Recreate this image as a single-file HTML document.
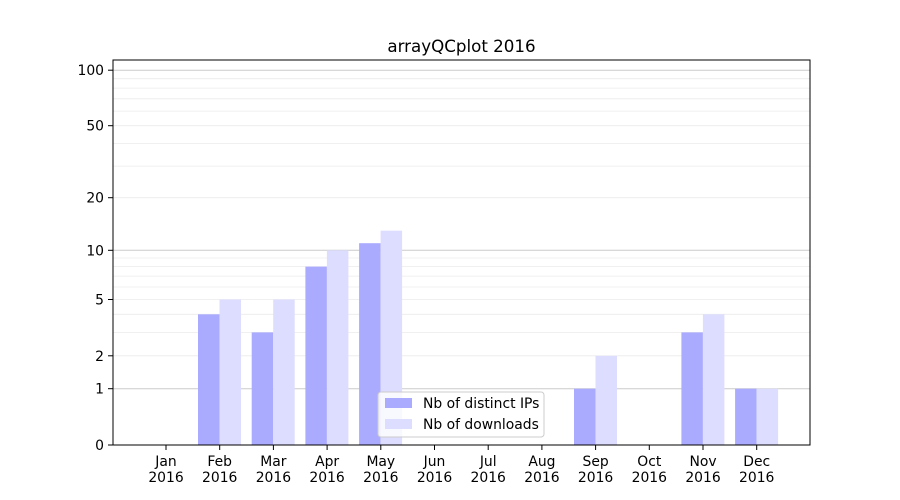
<!DOCTYPE html>
<html><head><meta charset="utf-8"><style>body{margin:0;background:#fff}svg{display:block}text{font-family:"DejaVu Sans","Liberation Sans",sans-serif;font-size:13.9px;fill:#000}</style></head><body>
<svg width="900" height="500" xmlns="http://www.w3.org/2000/svg">
<rect width="900" height="500" fill="#fff"/>
<g stroke="#ebebeb" stroke-width="0.8">
<line x1="113" x2="810" y1="332.4" y2="332.4"/><line x1="113" x2="810" y1="314.3" y2="314.3"/>
<line x1="113" x2="810" y1="287" y2="287"/><line x1="113" x2="810" y1="276.1" y2="276.1"/>
<line x1="113" x2="810" y1="266.6" y2="266.6"/><line x1="113" x2="810" y1="258" y2="258"/>
<line x1="113" x2="810" y1="166.1" y2="166.1"/><line x1="113" x2="810" y1="143.4" y2="143.4"/>
<line x1="113" x2="810" y1="111.1" y2="111.1"/><line x1="113" x2="810" y1="98.8" y2="98.8"/>
<line x1="113" x2="810" y1="88.1" y2="88.1"/><line x1="113" x2="810" y1="78.7" y2="78.7"/>
<line x1="113" x2="810" y1="355.8" y2="355.8"/><line x1="113" x2="810" y1="299.5" y2="299.5"/>
<line x1="113" x2="810" y1="197.7" y2="197.7"/><line x1="113" x2="810" y1="125.7" y2="125.7"/>
</g>
<g stroke="#cccccc" stroke-width="1">
<line x1="113" x2="810" y1="388.7" y2="388.7"/><line x1="113" x2="810" y1="250.3" y2="250.3"/><line x1="113" x2="810" y1="70.2" y2="70.2"/>
</g>
<g fill="#aaaaff">
<rect x="198" y="314.3" width="21.5" height="130.7"/>
<rect x="251.7" y="332.4" width="21.5" height="112.6"/>
<rect x="305.4" y="266.6" width="21.5" height="178.4"/>
<rect x="359.1" y="243.2" width="21.5" height="201.8"/>
<rect x="574" y="388.7" width="21.5" height="56.3"/>
<rect x="681.4" y="332.4" width="21.5" height="112.6"/>
<rect x="735.1" y="388.7" width="21.5" height="56.3"/>
</g>
<g fill="#ddddff">
<rect x="219.5" y="299.5" width="21.5" height="145.5"/>
<rect x="273.2" y="299.5" width="21.5" height="145.5"/>
<rect x="326.9" y="250.3" width="21.5" height="194.7"/>
<rect x="380.6" y="230.7" width="21.5" height="214.3"/>
<rect x="595.5" y="355.8" width="21.5" height="89.2"/>
<rect x="702.9" y="314.3" width="21.5" height="130.7"/>
<rect x="756.6" y="388.7" width="21.5" height="56.3"/>
</g>
<rect x="113" y="60" width="697" height="385" fill="none" stroke="#000" stroke-width="1"/>
<g stroke="#000">
<line x1="108" x2="113" y1="445" y2="445"/><line x1="108" x2="113" y1="388.7" y2="388.7"/><line x1="108" x2="113" y1="355.8" y2="355.8"/>
<line x1="108" x2="113" y1="299.5" y2="299.5"/><line x1="108" x2="113" y1="250.3" y2="250.3"/><line x1="108" x2="113" y1="197.7" y2="197.7"/>
<line x1="108" x2="113" y1="125.7" y2="125.7"/><line x1="108" x2="113" y1="70.2" y2="70.2"/>
</g>
<g text-anchor="end">
<text x="104" y="450">0</text><text x="104" y="393.7">1</text><text x="104" y="360.8">2</text><text x="104" y="304.5">5</text>
<text x="104" y="255.3">10</text><text x="104" y="202.7">20</text><text x="104" y="130.7">50</text><text x="104" y="75.2">100</text>
</g>
<g text-anchor="middle">
<text x="166" y="466">Jan</text><text x="166" y="482">2016</text>
<text x="219.7" y="466">Feb</text><text x="219.7" y="482">2016</text>
<text x="273.4" y="466">Mar</text><text x="273.4" y="482">2016</text>
<text x="327.1" y="466">Apr</text><text x="327.1" y="482">2016</text>
<text x="380.8" y="466">May</text><text x="380.8" y="482">2016</text>
<text x="434.5" y="466">Jun</text><text x="434.5" y="482">2016</text>
<text x="488.2" y="466">Jul</text><text x="488.2" y="482">2016</text>
<text x="541.9" y="466">Aug</text><text x="541.9" y="482">2016</text>
<text x="595.6" y="466">Sep</text><text x="595.6" y="482">2016</text>
<text x="649.3" y="466">Oct</text><text x="649.3" y="482">2016</text>
<text x="703" y="466">Nov</text><text x="703" y="482">2016</text>
<text x="756.7" y="466">Dec</text><text x="756.7" y="482">2016</text>
</g>
<g stroke="#000">
<line x1="166" x2="166" y1="445" y2="450"/><line x1="219.7" x2="219.7" y1="445" y2="450"/><line x1="273.4" x2="273.4" y1="445" y2="450"/>
<line x1="327.1" x2="327.1" y1="445" y2="450"/><line x1="380.8" x2="380.8" y1="445" y2="450"/><line x1="434.5" x2="434.5" y1="445" y2="450"/>
<line x1="488.2" x2="488.2" y1="445" y2="450"/><line x1="541.9" x2="541.9" y1="445" y2="450"/><line x1="595.6" x2="595.6" y1="445" y2="450"/>
<line x1="649.3" x2="649.3" y1="445" y2="450"/><line x1="703" x2="703" y1="445" y2="450"/><line x1="756.7" x2="756.7" y1="445" y2="450"/>
</g>
<text x="461.5" y="52" text-anchor="middle" style="font-size:16.7px">arrayQCplot 2016</text>
<rect x="378" y="392" width="166" height="45" rx="3" fill="#fff" fill-opacity="0.8" stroke="#cccccc"/>
<rect x="385" y="398" width="27" height="10" fill="#aaaaff"/>
<rect x="385" y="419" width="27" height="10" fill="#ddddff"/>
<text x="423" y="408">Nb of distinct IPs</text>
<text x="423" y="429">Nb of downloads</text>
</svg>
</body></html>
